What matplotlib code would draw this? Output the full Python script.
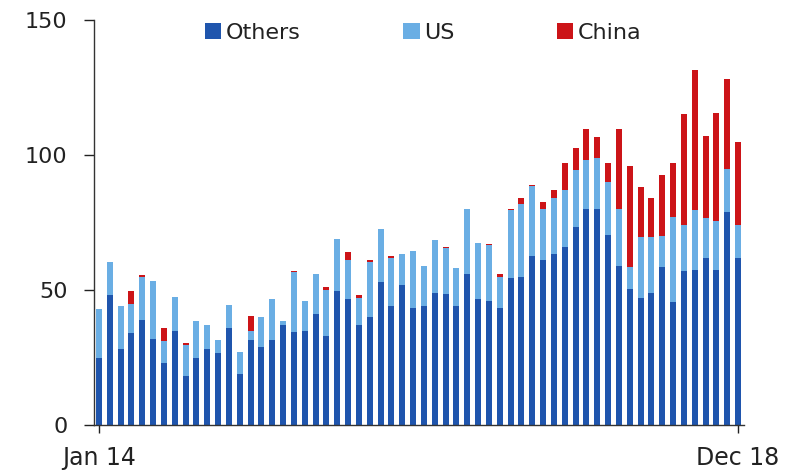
import matplotlib
matplotlib.use("Agg")
import matplotlib.pyplot as plt
import numpy as np

months = [f"{m} {y}" for y in range(14, 19) for m in
          ["Jan", "Feb", "Mar", "Apr", "May", "Jun", "Jul", "Aug", "Sep", "Oct", "Nov", "Dec"]]

others = [25, 48, 28, 34, 39, 32, 23, 35, 18, 25, 28, 26.5,
          36, 19, 31.5, 29, 31.5, 37, 34.5, 35, 41, 33, 49.5, 46.5,
          37, 40, 53, 44, 52, 43.5, 44, 49, 48.5, 44, 56, 46.5,
          46, 43.5, 54.5, 55, 62.5, 61, 63.5, 66, 73.5, 80,
          80, 70.5, 59, 50.5, 47, 49, 58.5, 45.5, 57, 57.5, 62, 57.5, 79, 62]
us = [18, 12.5, 16, 11, 16, 21.5, 8, 12.5, 11.5, 13.5, 9, 5,
      8.5, 8, 3.5, 11, 15, 1.5, 22, 11, 15, 17, 19.5, 14.5,
      10, 20.5, 19.5, 18, 11.5, 21, 15, 19.5, 17, 14, 24, 21,
      20.5, 11.5, 25, 27, 26, 19, 20.5, 21, 21, 18,
      19, 19.5, 21, 8, 22.5, 20.5, 11.5, 31.5, 17, 22, 14.5, 18, 16, 12]
china = [0, 0, 0, 4.5, 0.5, 0, 5, 0, 1, 0, 0, 0,
         0, 0, 5.5, 0, 0, 0, 0.5, 0, 0, 1, 0, 3,
         1, 0.5, 0, 0.5, 0, 0, 0, 0, 0.5, 0, 0, 0,
         0.5, 1, 0.5, 2, 0.5, 2.5, 3, 10, 8, 11.5,
         7.5, 7, 29.5, 37.5, 18.5, 14.5, 22.5, 20, 41, 52, 30.5, 40, 33, 31]

c_others = "#1f55ad"
c_us = "#6aaee4"
c_china = "#cc1418"

plt.rcParams['font.family'] = ['DejaVu Sans']

fig = plt.figure(figsize=(7.88, 4.71), dpi=100)
ax = fig.add_axes([94/788, 1 - 425/471, (744 - 94)/788, (425 - 20)/471])

x = np.arange(len(months))
o = np.array(others)
u = np.array(us)
c = np.array(china)
w = 0.56
ax.bar(x, o, width=w, color=c_others, label="Others", linewidth=0)
ax.bar(x, u, width=w, bottom=o, color=c_us, label="US", linewidth=0)
ax.bar(x, c, width=w, bottom=o + u, color=c_china, label="China", linewidth=0)

ax.set_xlim(-0.45, 59.55)
ax.set_ylim(0, 150)
ax.set_yticks([0, 50, 100, 150])
ax.set_xticks([0, 59])
ax.set_xticklabels([months[0], months[-1]])

for s in ["top", "right"]:
    ax.spines[s].set_visible(False)
for s in ["left", "bottom"]:
    ax.spines[s].set_color("#333333")
    ax.spines[s].set_linewidth(1.0)
ax.tick_params(axis="y", direction="out", length=7, width=1, labelsize=16, colors="#222222", pad=12)
ax.tick_params(axis="x", direction="out", length=6, width=1, labelsize=17, colors="#222222", pad=9)

leg = ax.legend(ncol=3, loc="center", bbox_to_anchor=((423 - 94)/650, (425 - 33)/405),
                frameon=False, fontsize=16, handlelength=0.75, handleheight=0.75,
                handletextpad=0.2, columnspacing=4.6)
for t in leg.get_texts():
    t.set_color("#222222")

fig.savefig("out.png", dpi=100)
